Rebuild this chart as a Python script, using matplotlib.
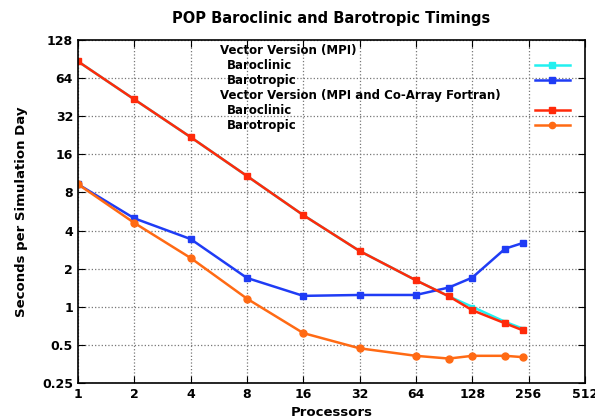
import matplotlib.pyplot as plt
from matplotlib.lines import Line2D

procs = [1, 2, 4, 8, 16, 32, 64, 96, 128, 192, 240]
mpi_baroclinic = [86.8, 43.5, 21.9, 10.8, 5.3, 2.76, 1.62, 1.21, 1.0, 0.76, 0.67]
mpi_barotropic = [9.3, 5.0, 3.43, 1.69, 1.22, 1.24, 1.24, 1.42, 1.70, 2.88, 3.2]
caf_baroclinic = [86.8, 43.5, 21.9, 10.8, 5.3, 2.76, 1.62, 1.21, 0.94, 0.74, 0.65]
caf_barotropic = [9.3, 4.6, 2.43, 1.16, 0.62, 0.47, 0.41, 0.39, 0.41, 0.41, 0.40]

xticks = [1, 2, 4, 8, 16, 32, 64, 128, 256, 512]
yticks = [0.25, 0.5, 1, 2, 4, 8, 16, 32, 64, 128]
ytick_labels = ['0.25', '0.5', '1', '2', '4', '8', '16', '32', '64', '128']

c_cyan = '#22f0f0'
c_blue = '#1f3cf5'
c_red = '#ff2a0a'
c_orange = '#ff6a14'

fig = plt.figure(figsize=(5.95, 4.17), dpi=100)
ax = fig.add_axes([0.131, 0.0815, 0.852, 0.8225])

ax.plot(procs, mpi_baroclinic, color=c_cyan, lw=1.8, marker='s', ms=3.5)
ax.plot(procs, mpi_barotropic, color=c_blue, lw=1.8, marker='s', ms=4)
ax.plot(procs, caf_baroclinic, color=c_red, lw=1.8, marker='s', ms=4.5)
ax.plot(procs, caf_barotropic, color=c_orange, lw=1.8, marker='o', ms=5)

ax.set_xscale('log', base=2)
ax.set_yscale('log', base=2)
ax.set_xlim(1, 512)
ax.set_ylim(0.25, 128)
ax.set_xticks(xticks)
ax.set_xticklabels([str(t) for t in xticks], fontweight='bold', fontsize=9)
ax.set_yticks(yticks)
ax.set_yticklabels(ytick_labels, fontweight='bold', fontsize=9)
ax.minorticks_off()
ax.tick_params(direction='in', top=True, right=True, length=5, width=0.8)
ax.grid(True, linestyle=':', color='#777777', lw=0.9)
for s in ax.spines.values():
    s.set_linewidth(1.2)

ax.set_title('POP Baroclinic and Barotropic Timings', fontweight='bold', fontsize=10.5, pad=12)
ax.set_xlabel('Processors', fontweight='bold', fontsize=9.5, labelpad=4)
ax.set_ylabel('Seconds per Simulation Day', fontweight='bold', fontsize=9.5, labelpad=10)

# legend drawn by hand, gnuplot style (text left, samples at right)
entries = [
    ('Vector Version (MPI)', None, None, 0.0),
    ('Baroclinic', c_cyan, 's', 0.014),
    ('Barotropic', c_blue, 's', 0.014),
    ('Vector Version (MPI and Co-Array Fortran)', None, None, 0.0),
    ('Baroclinic', c_red, 's', 0.014),
    ('Barotropic', c_orange, 'o', 0.014),
]
x0 = (220 - 78) / 507
y_top = 1 - (50 - 40) / 343
dy = 15 / 343
for i, (label, col, mk, indent) in enumerate(entries):
    y = y_top - i * dy
    ax.text(x0 + indent, y, label, transform=ax.transAxes, fontsize=8.5,
            fontweight='bold', va='center', ha='left')
    if col is not None:
        ax.add_line(Line2D([(535 - 78) / 507, (570 - 78) / 507], [y, y],
                           transform=ax.transAxes, color=col, lw=1.8))
        ax.plot([(552 - 78) / 507], [y], transform=ax.transAxes, color=col,
                marker=mk, ms=4.5)

fig.savefig('out.png', dpi=100)
